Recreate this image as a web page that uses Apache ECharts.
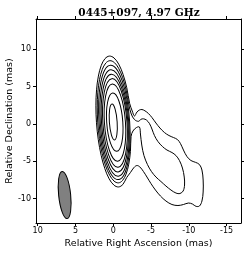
<!DOCTYPE html>
<html>
<head>
<meta charset="utf-8">
<script src="https://cdn.jsdelivr.net/npm/echarts@6/dist/echarts.min.js"></script>
<style>
html,body{margin:0;padding:0;background:#fff;}
#chart{width:250px;height:255px;}
</style>
</head>
<body>
<div id="chart"></div>
<script>
// ---- Data (mas) ----
const titleText = '0445+097, 4.97 GHz';
const xTicks = [10, 5, 0, -5, -10, -15];
const yTicks = [-10, -5, 0, 5, 10];

// Outermost contour (core + jet), RA / Dec vertices
const contour1RA = [0.513,-0.106,-0.728,-1.296,-1.786,-2.169,-2.513,-2.804,-3.135,-3.466,-3.796,-4.193,-4.656,-5.119,-5.648,-6.177,-6.773,-7.368,-7.963,-8.492,-8.889,-9.286,-9.749,-10.278,-10.873,-11.403,-11.733,-11.892,-11.892,-11.733,-11.403,-10.940,-10.477,-9.947,-9.286,-8.559,-7.765,-6.971,-6.244,-5.582,-4.987,-4.458,-3.995,-3.532,-3.135,-2.738,-2.275,-1.773,-1.275,-0.698,-0.079,0.542,1.111,1.601,1.980,2.217,2.295,2.209,1.968,1.587,1.090];
const contour1Dec = [9.095,8.841,8.005,6.645,4.859,2.758,1.740,1.071,1.606,1.874,1.941,1.767,1.406,0.870,0.134,-0.535,-1.138,-1.540,-1.807,-2.075,-2.610,-3.481,-4.351,-4.886,-5.127,-5.422,-6.158,-7.497,-9.103,-10.308,-10.977,-11.018,-10.710,-10.576,-10.776,-10.910,-10.776,-10.308,-9.639,-8.835,-7.965,-7.095,-6.359,-5.756,-5.556,-5.823,-6.493,-7.175,-8.086,-8.426,-8.171,-7.336,-5.976,-4.190,-2.091,0.171,2.444,4.578,6.415,7.845,8.755];

// Second contour (core + jet lobe)
const contour2RA = [0.447,-0.132,-0.712,-1.250,-1.710,-2.064,-2.381,-2.804,-3.333,-3.664,-3.995,-4.392,-4.789,-5.119,-5.450,-5.913,-6.508,-7.103,-7.765,-8.294,-8.757,-9.154,-9.392,-9.432,-9.246,-8.823,-8.294,-7.633,-6.971,-6.310,-5.648,-5.053,-4.524,-4.061,-3.770,-3.598,-3.466,-3.069,-2.606,-2.356,-2.275,-2.050,-1.693,-1.225,-0.685,-0.106,0.474,1.012,1.472,1.824,2.045,2.118,2.038,1.811,1.452,0.987];
const contour2Dec = [8.481,8.242,7.461,6.194,4.525,2.566,1.339,0.602,0.361,0.629,0.696,0.535,0.067,-0.669,-1.540,-2.343,-3.012,-3.481,-3.815,-4.217,-4.886,-5.890,-7.095,-8.166,-8.969,-9.304,-9.237,-8.835,-8.300,-7.698,-7.095,-6.359,-5.422,-4.217,-2.811,-1.339,-0.402,-0.469,-0.937,-1.667,-3.655,-5.375,-6.707,-7.564,-7.878,-7.640,-6.854,-5.596,-3.922,-1.964,0.149,2.269,4.260,5.977,7.308,8.162];

// Inner core contours (elliptical): centre RA, Dec, full major, full minor (mas), PA (deg)
const coreRA    = [-0.146,-0.172,-0.198,-0.225,-0.225,-0.198,0.000];
const coreDec   = [0.221,0.147,0.134,0.147,0.180,0.248,0.268];
const coreMajor = [15.35,14.30,13.12,11.89,10.35,7.80,4.82];
const coreMinor = [4.05,3.77,3.49,3.19,2.78,2.13,1.03];
const corePA    = [4,4,4,4,4,4,4];

// Restoring beam
const beamRA = [6.43], beamDec = [-9.5], beamMajor = [6.35], beamMinor = [1.59], beamPA = [6];

// ---- Chart ----
const chart = echarts.init(document.getElementById('chart'), null, {renderer:'canvas'});
const FONT = 'DejaVu Sans';
const xMin = -16.9, xMax = 10.22, yMin = -13.25, yMax = 14.06;

function polyRenderer(raArr, decArr) {
  return function (params, api) {
    if (params.dataIndex !== 0) return null;
    const pts = raArr.map((r, i) => api.coord([r, decArr[i]]));
    return {type:'polygon', shape:{points:pts, smooth:0.35},
      style:{fill:'none', stroke:'#000', lineWidth:1}};
  };
}
function ellipseRenderer(fill) {
  return function (params, api) {
    const c = api.coord([api.value(0), api.value(1)]);
    const sz = api.size([api.value(3), api.value(2)]);
    return {type:'ellipse', x:c[0], y:c[1], rotation: api.value(4) * Math.PI / 180,
      shape:{cx:0, cy:0, rx:Math.abs(sz[0]) / 2, ry:Math.abs(sz[1]) / 2},
      style:{fill: fill, stroke:'#000', lineWidth:1}};
  };
}

const baseX = {type:'value', min:xMin, max:xMax, inverse:true, splitLine:{show:false},
  axisLine:{show:true, onZero:false, lineStyle:{color:'#000', width:1}},
  axisTick:{show:true, inside:false, length:3, customValues:xTicks, lineStyle:{color:'#000'}}};
const baseY = {type:'value', min:yMin, max:yMax, splitLine:{show:false},
  axisLine:{show:true, onZero:false, lineStyle:{color:'#000', width:1}},
  axisTick:{show:true, inside:false, length:3, customValues:yTicks, lineStyle:{color:'#000'}}};

chart.setOption({
  animation:false,
  backgroundColor:'#fff',
  title:{text:titleText, left:134, textAlign:'center', top:3,
    textStyle:{fontFamily:'DejaVu Serif', fontSize:10.5, fontWeight:'bold', color:'#000'}},
  grid:{left:36, right:9, top:19, bottom:32, containLabel:false, outerBoundsMode:'none'},
  xAxis:[
    Object.assign({}, baseX, {position:'bottom',
      name:'Relative Right Ascension (mas)', nameLocation:'middle', nameGap:16, nameMoveOverlap:false,
      nameTextStyle:{fontFamily:FONT, fontSize:9.5, color:'#000'},
      axisLabel:{show:true, margin:4, customValues:xTicks, fontFamily:FONT, fontSize:8, color:'#000'}}),
    Object.assign({}, baseX, {position:'top', axisLabel:{show:false}})
  ],
  yAxis:[
    Object.assign({}, baseY, {position:'left',
      name:'Relative Declination (mas)', nameLocation:'middle', nameGap:21, nameMoveOverlap:false,
      nameTextStyle:{fontFamily:FONT, fontSize:9.5, color:'#000'},
      axisLabel:{show:true, margin:5, customValues:yTicks, fontFamily:FONT, fontSize:8, color:'#000'}}),
    Object.assign({}, baseY, {position:'right', axisLabel:{show:false}})
  ],
  series:[
    {type:'custom', name:'contour1', coordinateSystem:'cartesian2d', xAxisIndex:0, yAxisIndex:0,
      data: contour1RA.map((r,i)=>[r, contour1Dec[i]]), renderItem: polyRenderer(contour1RA, contour1Dec), silent:true},
    {type:'custom', name:'contour2', coordinateSystem:'cartesian2d', xAxisIndex:0, yAxisIndex:0,
      data: contour2RA.map((r,i)=>[r, contour2Dec[i]]), renderItem: polyRenderer(contour2RA, contour2Dec), silent:true},
    {type:'custom', name:'core', coordinateSystem:'cartesian2d', xAxisIndex:0, yAxisIndex:0,
      data: coreRA.map((r,i)=>[r, coreDec[i], coreMajor[i], coreMinor[i], corePA[i]]),
      renderItem: ellipseRenderer('none'), silent:true},
    {type:'custom', name:'beam', coordinateSystem:'cartesian2d', xAxisIndex:0, yAxisIndex:0,
      data: beamRA.map((r,i)=>[r, beamDec[i], beamMajor[i], beamMinor[i], beamPA[i]]),
      renderItem: ellipseRenderer('#808080'), silent:true}
  ]
});
</script>
</body>
</html>
